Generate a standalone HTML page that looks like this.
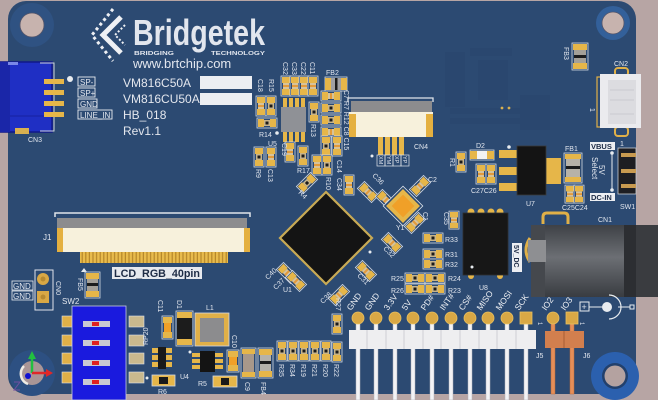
<!DOCTYPE html>
<html><head><meta charset="utf-8"><title>PCB</title>
<style>
html,body{margin:0;padding:0;background:#b7a5a4;overflow:hidden;}
svg{display:block;}
text{font-family:"Liberation Sans",sans-serif;fill:#e2e6ee;}
.s{font-size:7px;}
.m{font-size:8px;}
.t{font-size:12px;fill:#e4e7ee;}
.h{font-size:8.5px;fill:#eef0f4;}
.d{fill:#1d2b45;font-weight:bold;}
</style></head><body>
<svg width="658" height="400" viewBox="0 0 658 400" xmlns="http://www.w3.org/2000/svg">
<defs>
 <g id="cv"><rect x="-1" y="-1" width="10" height="20" fill="#2c4a72" stroke="#d5dae3" stroke-width="0.8"/><rect width="8" height="6" fill="#e6b649"/><rect y="12" width="8" height="6" fill="#e6b649"/><rect x="1" y="6" width="6" height="6" fill="#d7c39a"/><rect x="1" y="8" width="6" height="2" fill="#e39a3a"/></g>
 <g id="rv"><rect x="-1" y="-1" width="10" height="20" fill="#2c4a72" stroke="#d5dae3" stroke-width="0.8"/><rect width="8" height="6" fill="#e6b649"/><rect y="12" width="8" height="6" fill="#e6b649"/><rect x="1" y="6" width="6" height="6" fill="#c9b58a"/><rect x="2.5" y="7.5" width="3" height="3" fill="#1b1b1b"/></g>
 <pattern id="comb" width="3.6" height="12" patternUnits="userSpaceOnUse"><rect width="3.6" height="12" fill="#b5862a"/><rect width="2.4" height="12" fill="#e8bb4c"/></pattern>
 <linearGradient id="jack" x1="0" y1="0" x2="0" y2="1"><stop offset="0" stop-color="#3e4146"/><stop offset="0.45" stop-color="#6c6f74"/><stop offset="1" stop-color="#393c41"/></linearGradient>
</defs>
<rect width="658" height="400" fill="#b7a5a4"/>
<rect x="8" y="1" width="628" height="393" rx="18" fill="#2c4a72"/>

<!-- faint background logo -->
<g fill="#27436a" opacity="0.35">
 <rect x="445" y="52" width="20" height="55"/><rect x="470" y="48" width="42" height="8"/><rect x="478" y="60" width="30" height="40"/><rect x="450" y="108" width="70" height="6"/><rect x="450" y="118" width="70" height="6"/><rect x="520" y="95" width="30" height="35"/>
</g>
<circle cx="502" cy="108" r="1.4" fill="#d8b050"/><circle cx="509" cy="108" r="1.4" fill="#d8b050"/>

<!-- mounting holes -->
<circle cx="32" cy="25" r="22" fill="#2f5282"/><circle cx="32" cy="25" r="12" fill="#c7b3ae" stroke="#56566a" stroke-width="0.8"/>
<circle cx="613" cy="23" r="17" fill="#33609a"/><circle cx="613" cy="23" r="11" fill="#c7b3ae" stroke="#56566a" stroke-width="0.8"/>
<circle cx="615" cy="376" r="24" fill="#2b60ae"/><circle cx="615" cy="376" r="13" fill="#22406c"/><circle cx="615" cy="376" r="10.5" fill="#b4a2a0"/>
<circle cx="32" cy="373" r="23" fill="#2d5082"/><circle cx="32" cy="373" r="12" fill="#a99596"/>
<path d="M24,366 A11,11 0 0 0 28,384" stroke="#f0ece4" stroke-width="2.5" fill="none"/>
<line x1="32" y1="373" x2="32" y2="357" stroke="#22c040" stroke-width="2.5"/><polygon points="28,359 36,359 32,351" fill="#22c040"/>
<line x1="32" y1="373" x2="48" y2="373" stroke="#e02828" stroke-width="2.5"/><polygon points="46,369 46,377 53,373" fill="#e02828"/>
<circle cx="28" cy="376" r="3" fill="#1010d0"/>
<path d="M14,382 H20 L14,390 H20" stroke="#7050a0" stroke-width="1" fill="none"/>

<!-- logo -->
<path d="M121,17 L103,35 L121,53" stroke="#eef0f4" stroke-width="5" fill="none"/>
<path d="M113,9 L92,35 L113,61" stroke="#eef0f4" stroke-width="3" stroke-dasharray="3 3" fill="none"/>
<path d="M125,25 L115,35 L125,45" stroke="#eef0f4" stroke-width="2" stroke-dasharray="2 2" fill="none"/>
<text x="133" y="45" font-size="36" font-weight="bold" textLength="132" lengthAdjust="spacingAndGlyphs" fill="#eef0f4">Bridgetek</text>
<text x="134" y="55" font-size="5.5" font-weight="bold" textLength="40" lengthAdjust="spacingAndGlyphs">BRIDGING</text>
<text x="211" y="55" font-size="5.5" font-weight="bold" textLength="54" lengthAdjust="spacingAndGlyphs">TECHNOLOGY</text>
<text x="133" y="68" font-size="13" fill="#e8ebf1">www.brtchip.com</text>
<text x="123" y="87" class="t">VM816C50A</text>
<rect x="200" y="76" width="52" height="13" fill="#eceef2"/>
<text x="123" y="103" class="t">VM816CU50A</text>
<rect x="200" y="93" width="52" height="12" fill="#eceef2"/>
<text x="123" y="119" class="t">HB_018</text>
<text x="123" y="135" class="t">Rev1.1</text>

<!-- CN3 -->
<rect x="0" y="62" width="52" height="70" fill="#1f2fc4" stroke="#10188a" stroke-width="1.5"/>
<rect x="0" y="62" width="10" height="70" fill="#1a26a8"/>
<rect x="8" y="62" width="10" height="3" fill="#7a88e8"/>
<rect x="15" y="128" width="14" height="6" fill="#d8b050"/>
<line x1="10" y1="116" x2="45" y2="116" stroke="#1722a0" stroke-width="1"/>
<path d="M40,63 H54 V131 H40" stroke="#cfd4de" stroke-width="1" fill="none"/>
<g fill="#e6b649"><rect x="44" y="79" width="20" height="5"/><rect x="44" y="90" width="20" height="5"/><rect x="44" y="101" width="20" height="5"/><rect x="44" y="112" width="20" height="5"/></g>
<circle cx="70" cy="79" r="3" fill="#e8ecf0"/>
<g fill="none" stroke="#e8ecf0" stroke-width="0.9"><rect x="78" y="77" width="17" height="9"/><rect x="78" y="88" width="17" height="9"/><rect x="78" y="99" width="19" height="9"/><rect x="78" y="110" width="34" height="9"/></g>
<text x="80" y="85" class="m">SP-</text><text x="80" y="96" class="m">SP+</text><text x="80" y="107" class="m">GND</text><text x="80" y="118" class="m">LINE_IN</text>
<text x="28" y="142" class="s">CN3</text>

<!-- top center small parts -->
<use href="#cv" x="282" y="77"/><use href="#cv" x="291" y="77"/><use href="#cv" x="300" y="77"/><use href="#cv" x="309" y="77"/>
<text transform="translate(283,62) rotate(90)" class="s">C32</text><text transform="translate(292,62) rotate(90)" class="s">C33</text><text transform="translate(301,62) rotate(90)" class="s">C22</text><text transform="translate(310,62) rotate(90)" class="s">C11</text>
<rect x="325" y="77" width="22" height="14" fill="#2c4a72" stroke="#d5dae3" stroke-width="0.8"/><rect x="325" y="78" width="6" height="12" fill="#e6b649"/><rect x="341" y="78" width="6" height="12" fill="#e6b649"/><rect x="331" y="78" width="10" height="12" fill="#a0a0a2"/><rect x="335" y="78" width="2.5" height="12" fill="#1c1c1c"/>
<text x="326" y="75" class="s">FB2</text>
<use href="#cv" x="257" y="97"/><use href="#rv" x="267" y="97"/>
<text transform="translate(258,79) rotate(90)" class="s">C18</text><text transform="translate(269,79) rotate(90)" class="s">R15</text>
<use href="#rv" transform="translate(276,119) rotate(90)"/>
<text x="259" y="137" class="s">R14</text><text x="268" y="146" class="s">U5</text>
<g fill="#e6b649"><rect x="283" y="98" width="4" height="10"/><rect x="289" y="98" width="4" height="10"/><rect x="295" y="98" width="4" height="10"/><rect x="301" y="98" width="4" height="10"/><rect x="283" y="131" width="4" height="11"/><rect x="289" y="131" width="4" height="11"/><rect x="295" y="131" width="4" height="11"/><rect x="301" y="131" width="4" height="11"/></g>
<rect x="281" y="107" width="25" height="25" fill="#8f9196"/>
<circle cx="277" cy="133" r="1.8" fill="#e8ecf0"/>
<use href="#cv" x="286" y="143"/>
<text transform="translate(282,143) rotate(90)" class="s">C19</text>
<use href="#rv" x="310" y="103"/>
<text transform="translate(311,124) rotate(90)" class="s">R13</text>
<use href="#cv" transform="translate(340,92) rotate(90)"/><use href="#rv" transform="translate(340,104) rotate(90)"/><use href="#rv" transform="translate(340,116) rotate(90)"/><use href="#cv" transform="translate(340,128) rotate(90)"/>
<text transform="translate(344,90) rotate(90)" class="s">C7 R7 R12 C8 C15</text>
<use href="#rv" x="322" y="137"/><use href="#cv" x="333" y="137"/>
<text transform="translate(322,158) rotate(90)" class="s">R11</text>
<use href="#rv" x="299" y="147"/><text x="297" y="173" class="s">R17</text>
<use href="#rv" x="255" y="148"/><use href="#cv" x="267" y="148"/>
<text transform="translate(256,169) rotate(90)" class="s">R9</text><text transform="translate(268,169) rotate(90)" class="s">C13</text>
<use href="#cv" x="313" y="156"/><use href="#rv" x="323" y="156"/>
<text transform="translate(326,177) rotate(90)" class="s">R10</text><text transform="translate(337,160) rotate(90)" class="s">C14</text>
<use href="#rv" transform="translate(307,183) rotate(45) translate(-4,-9)"/>
<text transform="translate(298,193) rotate(45)" class="s">R4</text>
<use href="#cv" x="345" y="176"/>
<text transform="translate(337,178) rotate(90)" class="s">C34</text>
<use href="#cv" transform="translate(368,192) rotate(-45) translate(-4,-9)"/><use href="#cv" transform="translate(386,200) rotate(-45) translate(-4,-9)"/>
<text transform="translate(372,176) rotate(45)" class="s">C36</text>

<!-- R1 D2 etc -->
<use href="#rv" x="457" y="153"/><text transform="translate(450,158) rotate(90)" class="s">R1</text>
<rect x="470" y="150" width="24" height="10" fill="#2c4a72" stroke="#d5dae3" stroke-width="0.8"/><rect x="470" y="151" width="7" height="8" fill="#e6b649"/><rect x="487" y="151" width="7" height="8" fill="#e6b649"/><rect x="477" y="151" width="10" height="8" fill="#f2f2f2"/>
<text x="476" y="148" class="s">D2</text>
<use href="#cv" x="477" y="165"/><use href="#cv" x="487" y="165"/>
<text x="471" y="193" class="s">C27C26</text>
<circle cx="509" cy="147" r="1.8" fill="#e8ecf0"/>
<g fill="#e6b649"><rect x="499" y="150" width="19" height="8"/><rect x="499" y="167" width="19" height="8"/><rect x="499" y="183" width="19" height="8"/><rect x="545" y="158" width="16" height="26"/></g>
<rect x="517" y="146" width="29" height="49" fill="#141414" stroke="#3a3a3a" stroke-width="0.8"/>
<text x="526" y="206" class="s">U7</text>
<rect x="564" y="153" width="18" height="30" fill="#2c4a72" stroke="#d5dae3" stroke-width="0.8"/><rect x="565" y="154" width="16" height="5" fill="#e6b649"/><rect x="565" y="177" width="16" height="5" fill="#e6b649"/><rect x="566" y="159" width="14" height="18" fill="#b7b2a8"/><rect x="566" y="166" width="14" height="3" fill="#1c1c1c"/>
<text x="565" y="151" class="s">FB1</text>
<use href="#cv" transform="translate(566,186) scale(1,0.9)"/><use href="#cv" transform="translate(575,186) scale(1,0.9)"/>
<text x="562" y="210" class="s">C25C24</text>
<rect x="590" y="142" width="25" height="8" fill="#eceef2"/><text x="591" y="149" font-size="7.5" class="d">VBUS</text>
<rect x="590" y="193" width="25" height="8" fill="#eceef2"/><text x="591" y="200" font-size="7.5" class="d">DC-IN</text>
<line x1="612" y1="153" x2="612" y2="190" stroke="#e8ecf0" stroke-width="1"/><circle cx="612" cy="153" r="1.8" fill="#e8ecf0"/><circle cx="612" cy="190" r="1.8" fill="#e8ecf0"/>
<text transform="translate(599,165) rotate(90)" font-size="8">5V</text>
<text transform="translate(592,157) rotate(90)" font-size="8">Select</text>
<rect x="618" y="148" width="18" height="46" fill="#1e1e22" stroke="#c8ccd4" stroke-width="0.8"/>
<g fill="#c89a50"><rect x="621" y="153" width="15" height="4"/><rect x="621" y="169" width="15" height="4"/><rect x="621" y="184" width="15" height="4"/></g>
<text x="620" y="209" class="s">SW1</text><text x="620" y="146" class="s">1</text>

<!-- FB3 / CN2 -->
<rect x="572" y="43" width="16" height="27" fill="#2c4a72" stroke="#d5dae3" stroke-width="0.8"/><rect x="573" y="44" width="14" height="6" fill="#e6b649"/><rect x="573" y="63" width="14" height="6" fill="#e6b649"/><rect x="574" y="50" width="12" height="13" fill="#a4a098"/><rect x="574" y="55" width="12" height="3" fill="#1c1c1c"/>
<text transform="translate(564,47) rotate(90)" class="s">FB3</text>
<text x="614" y="66" class="s">CN2</text>
<rect x="615" y="68" width="13" height="8" rx="3" fill="none" stroke="#e0b048" stroke-width="2"/>
<rect x="615" y="127" width="13" height="9" rx="3" fill="none" stroke="#e0b048" stroke-width="2"/>
<rect x="597" y="77" width="5" height="50" fill="none" stroke="#e0b048" stroke-width="1.2"/>
<rect x="600" y="74" width="41" height="54" fill="#ebebee"/>
<rect x="608" y="80" width="28" height="44" fill="#dcdce0"/>
<g stroke="#c4c4ca" stroke-width="0.8"><line x1="610" y1="90" x2="634" y2="90"/><line x1="610" y1="100" x2="634" y2="100"/><line x1="610" y1="114" x2="634" y2="114"/></g>
<text transform="translate(590,108) rotate(90)" class="s">1</text>

<!-- CN4 -->
<path d="M348,102 V98 H433 V102" stroke="#e0e4ea" stroke-width="1.3" fill="none"/>
<rect x="351" y="101" width="81" height="11" fill="#8c8c8e"/>
<rect x="349" y="112" width="84" height="25" fill="#f7f1dc"/>
<rect x="349" y="114" width="7" height="23" fill="#e4b040"/><rect x="426" y="114" width="7" height="23" fill="#e4b040"/>
<g fill="#e6b649"><rect x="378" y="137" width="5" height="18"/><rect x="385" y="137" width="5" height="18"/><rect x="392" y="137" width="5" height="18"/><rect x="399" y="137" width="5" height="18"/></g>
<text x="414" y="149" class="s">CN4</text>
<circle cx="372" cy="156" r="1.5" fill="#e8ecf0"/>
<g fill="none" stroke="#e0e4ea" stroke-width="0.7"><rect x="377" y="155" width="8" height="11"/><rect x="385" y="155" width="8" height="11"/><rect x="393" y="155" width="8" height="11"/><rect x="401" y="155" width="8" height="11"/></g>
<text transform="translate(379,156) rotate(90)" font-size="5.5">XM</text><text transform="translate(387,156) rotate(90)" font-size="5.5">YM</text><text transform="translate(395,156) rotate(90)" font-size="5.5">XP</text><text transform="translate(403,156) rotate(90)" font-size="5.5">YP</text>

<!-- U1 and Y1 -->
<polygon points="326,192 372,238 326,284 280,238" fill="#141414" stroke="#c8aa55" stroke-width="2.2"/>
<circle cx="370" cy="252" r="1.5" fill="#e8ecf0"/>
<text x="283" y="292" class="s">U1</text>
<g transform="translate(403,206) rotate(45)"><rect x="-14" y="-14" width="28" height="28" fill="#2c4a72" stroke="#dde2ea" stroke-width="0.8"/><rect x="-12" y="-12" width="24" height="24" fill="#e6b649"/><rect x="-8" y="-8" width="16" height="16" fill="#f0a028"/></g>
<text x="396" y="230" class="s">Y1</text>
<use href="#cv" transform="translate(420,186) rotate(45) translate(-4,-9)"/><text x="428" y="182" class="s">C2</text>
<use href="#cv" transform="translate(415,223) rotate(45) translate(-4,-9)"/><text transform="translate(423,212) rotate(90)" class="s">C1</text>
<use href="#cv" transform="translate(392,243) rotate(-45) translate(-4,-9)"/><text transform="translate(383,249) rotate(45)" class="s">C32</text>
<use href="#cv" transform="translate(366,271) rotate(-45) translate(-4,-9)"/><text transform="translate(357,276) rotate(45)" class="s">C31</text>
<use href="#cv" transform="translate(287,273) rotate(-45) translate(-4,-9)"/><use href="#cv" transform="translate(296,281) rotate(-45) translate(-4,-9)"/>
<text transform="translate(268,280) rotate(-45)" class="s">C40</text><text transform="translate(276,290) rotate(-45)" class="s">C37</text>
<use href="#cv" transform="translate(339,295) rotate(45) translate(-4,-9)"/><text transform="translate(323,304) rotate(-45)" class="s">C38</text>

<!-- right resistors / U8 -->
<use href="#cv" transform="translate(450,212) scale(1,0.9)"/><text transform="translate(444,212) rotate(90)" class="s">C35</text>
<use href="#rv" transform="translate(442,234) rotate(90)"/><text x="445" y="242" class="s">R33</text>
<use href="#rv" transform="translate(442,250) rotate(90)"/><text x="445" y="257" class="s">R31</text>
<use href="#rv" transform="translate(442,260) rotate(90)"/><text x="445" y="267" class="s">R32</text>
<use href="#rv" transform="translate(424,274) rotate(90)"/><use href="#rv" transform="translate(444,274) rotate(90)"/>
<use href="#rv" transform="translate(424,285) rotate(90)"/><use href="#rv" transform="translate(444,285) rotate(90)"/>
<text x="391" y="281" class="s">R25</text><text x="448" y="281" class="s">R24</text><text x="391" y="293" class="s">R26</text><text x="448" y="293" class="s">R23</text>
<g fill="#e6b649"><circle cx="471" cy="212" r="3.5"/><circle cx="481" cy="212" r="3.5"/><circle cx="491" cy="212" r="3.5"/><circle cx="500" cy="212" r="3.5"/><circle cx="471" cy="276" r="3"/><circle cx="500" cy="276" r="3"/></g>
<rect x="463" y="213" width="45" height="62" fill="#171717" stroke="#2e2e2e" stroke-width="0.8"/>
<circle cx="472" cy="267" r="1.5" fill="#e8ecf0"/>
<text x="479" y="290" class="s">U8</text>
<rect x="512" y="243" width="10" height="29" fill="#eceef2"/><text transform="translate(514,245) rotate(90)" font-size="7" class="d">5V_DC</text>

<!-- CN1 -->
<path d="M543,224 V217 Q543,213 547,213 H564 Q568,213 568,217 V224" stroke="#e0b048" stroke-width="3" fill="none"/>
<rect x="531" y="225" width="127" height="72" fill="url(#jack)"/>
<rect x="531" y="225" width="14" height="72" fill="#45484d"/>
<rect x="624" y="225" width="34" height="72" fill="#2c2e32"/>
<rect x="636" y="225" width="22" height="72" fill="#3a3c40"/>
<path d="M530,238 Q522,250 530,262" stroke="#e0b048" stroke-width="3" fill="none"/>
<rect x="528" y="240" width="18" height="22" fill="#8e8f92"/>
<text x="598" y="222" class="s">CN1</text>

<!-- header J5 -->
<g fill="#f3f3f5" stroke="#b0b0b8" stroke-width="0.5">
<rect x="356" y="318" width="4" height="82"/><rect x="374" y="318" width="4" height="82"/><rect x="393" y="318" width="4" height="82"/><rect x="411" y="318" width="4" height="82"/><rect x="430" y="318" width="4" height="82"/><rect x="449" y="318" width="4" height="82"/><rect x="468" y="318" width="4" height="82"/><rect x="486" y="318" width="4" height="82"/><rect x="505" y="318" width="4" height="82"/><rect x="524" y="318" width="4" height="82"/>
</g>
<rect x="349" y="330" width="187" height="19" fill="#eeeef0"/>
<g stroke="#c6c6cc" stroke-width="0.8"><line x1="367" y1="330" x2="367" y2="349"/><line x1="386" y1="330" x2="386" y2="349"/><line x1="404" y1="330" x2="404" y2="349"/><line x1="423" y1="330" x2="423" y2="349"/><line x1="441" y1="330" x2="441" y2="349"/><line x1="460" y1="330" x2="460" y2="349"/><line x1="479" y1="330" x2="479" y2="349"/><line x1="497" y1="330" x2="497" y2="349"/><line x1="516" y1="330" x2="516" y2="349"/></g>
<g fill="#d9a845" stroke="#e8c060" stroke-width="0.8"><circle cx="358" cy="318" r="6"/><circle cx="376" cy="318" r="6"/><circle cx="395" cy="318" r="6"/><circle cx="413" cy="318" r="6"/><circle cx="432" cy="318" r="6"/><circle cx="451" cy="318" r="6"/><circle cx="470" cy="318" r="6"/><circle cx="488" cy="318" r="6"/><circle cx="507" cy="318" r="6"/><rect x="520" y="312" width="12" height="12"/></g>
<text transform="translate(538,322) rotate(90)" font-size="6">1</text>
<text transform="translate(351,311) rotate(-55)" class="h">GND</text>
<text transform="translate(369,311) rotate(-55)" class="h">GND</text>
<text transform="translate(388,311) rotate(-55)" class="h">3.3V</text>
<text transform="translate(406,311) rotate(-55)" class="h">5V</text>
<text transform="translate(425,311) rotate(-55)" class="h">PD#</text>
<text transform="translate(444,311) rotate(-55)" class="h">INT#</text>
<text transform="translate(463,311) rotate(-55)" class="h">CS#</text>
<text transform="translate(481,311) rotate(-55)" class="h">MISO</text>
<text transform="translate(500,311) rotate(-55)" class="h">MOSI</text>
<text transform="translate(519,311) rotate(-55)" class="h">SCK</text>
<text x="536" y="358" class="s">J5</text>

<!-- J6 -->
<g fill="#e58e58" stroke="#b86a3a" stroke-width="0.5"><rect x="551" y="318" width="4" height="76"/><rect x="570" y="318" width="4" height="76"/></g>
<rect x="545" y="331" width="39" height="17" fill="#d27f4e"/><line x1="564" y1="331" x2="564" y2="348" stroke="#a85e34" stroke-width="1"/>
<g fill="#d9a845" stroke="#e8c060" stroke-width="0.8"><circle cx="553" cy="318" r="6"/><rect x="566" y="312" width="12" height="12"/></g>
<text transform="translate(546,311) rotate(-55)" class="h">IO2</text>
<text transform="translate(565,311) rotate(-55)" class="h">IO3</text>
<text transform="translate(580,322) rotate(90)" font-size="6">1</text>
<text x="583" y="358" class="s">J6</text>
<!-- polarity -->
<rect x="580" y="302" width="9" height="9" fill="none" stroke="#e8ecf0" stroke-width="1"/><text x="581.5" y="310" font-size="9" fill="#e8ecf0">+</text>
<line x1="589" y1="307" x2="603" y2="307" stroke="#e8ecf0" stroke-width="1"/>
<circle cx="607" cy="307" r="5" fill="#e8ecf0"/>
<path d="M609,295 A12,12 0 0 1 609,319" stroke="#e8ecf0" stroke-width="1.2" fill="none"/>
<line x1="618" y1="307" x2="630" y2="307" stroke="#e8ecf0" stroke-width="1"/>
<rect x="630" y="305" width="4" height="4" fill="none" stroke="#e8ecf0" stroke-width="1"/>

<!-- J1 -->
<path d="M55,217 V213 H250 V217" stroke="#e0e4ea" stroke-width="1.5" fill="none"/>
<rect x="57" y="218" width="190" height="10" fill="#8c8c8e"/>
<rect x="57" y="228" width="193" height="24" fill="#f7f1dc"/>
<rect x="57" y="228" width="6" height="24" fill="#e4b040"/><rect x="244" y="228" width="6" height="24" fill="#e4b040"/>
<rect x="80" y="252" width="148" height="11" fill="url(#comb)"/>
<text x="43" y="240" class="m">J1</text>
<rect x="112" y="267" width="90" height="12" fill="#e6e9ef"/>
<text x="114" y="277" font-size="11" class="d" textLength="86" lengthAdjust="spacingAndGlyphs">LCD_RGB_40pin</text>
<polygon points="81,272 84,268 87,272" fill="#e8ecf0"/>
<rect x="85" y="272" width="15" height="26" fill="#2c4a72" stroke="#d5dae3" stroke-width="0.8"/><rect x="86" y="273" width="13" height="6" fill="#e6b649"/><rect x="86" y="291" width="13" height="6" fill="#e6b649"/><rect x="87" y="279" width="11" height="12" fill="#a4a098"/><rect x="87" y="283" width="11" height="3" fill="#1c1c1c"/>
<text transform="translate(78,278) rotate(90)" class="s">FB5</text>

<!-- CN0 -->
<rect x="35" y="270" width="18" height="40" fill="none" stroke="#dfe3ea" stroke-width="1"/>
<circle cx="43" cy="279" r="6" fill="#d9a845"/><circle cx="43" cy="279" r="2.5" fill="#b88a30"/>
<rect x="37" y="291" width="12" height="12" fill="#d9a845"/><circle cx="43" cy="297" r="2.5" fill="#b88a30"/>
<text transform="translate(56,281) rotate(90)" class="s">CN0</text>
<g fill="none" stroke="#e8ecf0" stroke-width="0.8"><rect x="12" y="281" width="21" height="9"/><rect x="12" y="291" width="21" height="9"/></g>
<text x="13" y="289" class="m">GND</text><text x="13" y="299" class="m">GND</text>

<!-- SW2 -->
<text x="62" y="304" class="m">SW2</text>
<g fill="#e0b048" stroke="#dfe3ea" stroke-width="0.6"><rect x="62" y="316" width="10" height="11"/><rect x="62" y="335" width="10" height="11"/><rect x="62" y="353" width="10" height="11"/><rect x="62" y="372" width="10" height="11"/></g>
<g fill="#c9b98e" stroke="#dfe3ea" stroke-width="0.6"><rect x="129" y="316" width="15" height="11"/><rect x="129" y="335" width="15" height="11"/><rect x="129" y="353" width="15" height="11"/><rect x="129" y="372" width="15" height="11"/></g>
<rect x="72" y="306" width="54" height="94" fill="#1a1ade" stroke="#c8ccdc" stroke-width="0.8"/>
<g fill="#c8c8d2"><rect x="83" y="321" width="27" height="6"/><rect x="83" y="340" width="27" height="6"/><rect x="83" y="360" width="27" height="6"/><rect x="83" y="379" width="27" height="6"/></g>
<g fill="#e02020"><rect x="92" y="322" width="7" height="4"/><rect x="92" y="341" width="7" height="4"/><rect x="92" y="361" width="7" height="4"/><rect x="92" y="380" width="7" height="4"/></g>
<circle cx="147" cy="378" r="1.5" fill="#e8ecf0"/>

<!-- bottom middle parts -->
<rect x="162" y="316" width="11" height="23" fill="#2c4a72" stroke="#d5dae3" stroke-width="0.8"/><rect x="163" y="317" width="9" height="6" fill="#e6b649"/><rect x="163" y="332" width="9" height="6" fill="#e6b649"/><rect x="164" y="323" width="7" height="9" fill="#f0a028"/>
<text transform="translate(158,300) rotate(90)" class="s">C11</text>
<rect x="176" y="311" width="17" height="35" fill="#2c4a72" stroke="#d5dae3" stroke-width="0.8"/><rect x="177" y="312" width="15" height="6" fill="#e6b649"/><rect x="177" y="339" width="15" height="6" fill="#e6b649"/><rect x="177" y="318" width="15" height="21" fill="#1c1c1c"/>
<text transform="translate(177,300) rotate(90)" class="s">D1</text>
<rect x="195" y="313" width="34" height="33" fill="#e0b048" stroke="#d5dae3" stroke-width="0.8"/><rect x="200" y="318" width="24" height="24" fill="#8c8c8e"/>
<text x="206" y="310" class="s">L1</text>
<g fill="#e6b649"><rect x="152" y="348" width="6" height="5"/><rect x="152" y="355" width="6" height="5"/><rect x="152" y="362" width="6" height="5"/><rect x="166" y="348" width="6" height="5"/><rect x="166" y="355" width="6" height="5"/><rect x="166" y="362" width="6" height="5"/></g>
<rect x="158" y="347" width="8" height="22" fill="#1a1a1a"/>
<text transform="translate(148,345) rotate(-90)" class="s">RP20</text>
<rect x="152" y="375" width="23" height="11" fill="#e6b649" stroke="#d5dae3" stroke-width="0.8"/><rect x="159" y="377" width="9" height="7" fill="#1a1a1a"/>
<text x="158" y="394" class="s">R6</text>
<circle cx="190" cy="352" r="1.5" fill="#e8ecf0"/>
<g fill="#e6b649"><rect x="192" y="353" width="8" height="4"/><rect x="192" y="359" width="8" height="4"/><rect x="192" y="365" width="8" height="4"/><rect x="215" y="353" width="8" height="4"/><rect x="215" y="359" width="8" height="4"/><rect x="215" y="365" width="8" height="4"/></g>
<rect x="200" y="351" width="15" height="21" fill="#141414"/>
<text x="180" y="379" class="s">U4</text>
<rect x="213" y="376" width="24" height="11" fill="#e6b649" stroke="#d5dae3" stroke-width="0.8"/><rect x="221" y="378" width="8" height="7" fill="#1a1a1a"/>
<text x="198" y="386" class="s">R5</text>
<rect x="227" y="350" width="12" height="22" fill="#2c4a72" stroke="#d5dae3" stroke-width="0.8"/><rect x="228" y="351" width="10" height="6" fill="#e6b649"/><rect x="228" y="365" width="10" height="6" fill="#e6b649"/><rect x="229" y="357" width="8" height="8" fill="#f0a028"/>
<text transform="translate(232,335) rotate(90)" class="s">C10</text>
<rect x="241" y="348" width="15" height="30" fill="#2c4a72" stroke="#d5dae3" stroke-width="0.8"/><rect x="242" y="349" width="13" height="5" fill="#e6b649"/><rect x="242" y="372" width="13" height="5" fill="#e6b649"/><rect x="243" y="354" width="11" height="18" fill="#a8988a"/>
<text transform="translate(245,382) rotate(90)" class="s">C9</text>
<rect x="258" y="348" width="15" height="30" fill="#2c4a72" stroke="#d5dae3" stroke-width="0.8"/><rect x="259" y="349" width="13" height="6" fill="#e6b649"/><rect x="259" y="371" width="13" height="6" fill="#e6b649"/><rect x="260" y="355" width="11" height="16" fill="#b5b2aa"/><rect x="260" y="361" width="11" height="3" fill="#1c1c1c"/>
<text transform="translate(261,382) rotate(90)" class="s">FB4</text>
<use href="#rv" x="278" y="342"/><use href="#rv" x="289" y="342"/><use href="#rv" x="300" y="342"/><use href="#rv" x="311" y="342"/><use href="#rv" x="322" y="342"/>
<use href="#rv" x="333" y="315"/><use href="#rv" x="333" y="343"/>
<text transform="translate(279,364) rotate(90)" class="s">R35</text><text transform="translate(290,364) rotate(90)" class="s">R34</text><text transform="translate(301,364) rotate(90)" class="s">R19</text><text transform="translate(312,364) rotate(90)" class="s">R21</text><text transform="translate(323,364) rotate(90)" class="s">R20</text><text transform="translate(334,364) rotate(90)" class="s">R22</text>
<text transform="translate(336,298) rotate(90)" class="s">R27</text>
</svg>
</body></html>
